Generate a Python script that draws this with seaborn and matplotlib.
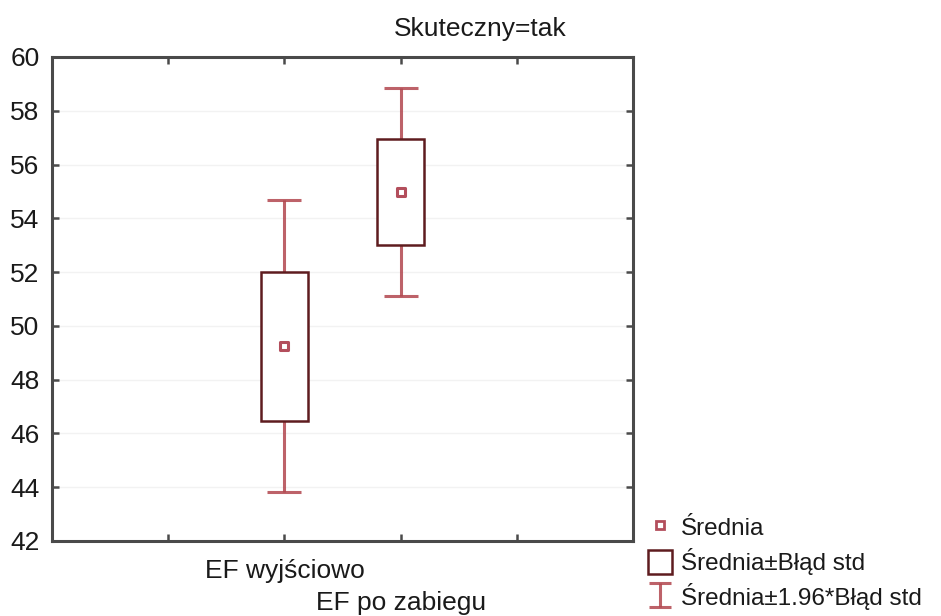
import numpy as np
import pandas as pd
import matplotlib
matplotlib.use("Agg")
import matplotlib.pyplot as plt
import seaborn as sns
from matplotlib.patches import Rectangle
from matplotlib.lines import Line2D

# Mean EF with standard error, for patients with a successful procedure
categories = ["EF wyjściowo", "EF po zabiegu"]
means = [49.24, 54.98]
std_err = [2.77, 1.98]
ci_factor = 1.96

y_ticks = [42, 44, 46, 48, 50, 52, 54, 56, 58, 60]
title = "Skuteczny=tak"
legend_labels = ["Średnia", "Średnia±Błąd std", "Średnia±1.96*Błąd std"]

box_color = "#5e1c1f"
whisker_color = "#b2474f"
mean_color = "#b34e5c"
spine_color = "#4a4a4a"
text_color = "#1a1a1a"

sns.set_theme(style="white")
plt.rcParams["font.family"] = ["Liberation Sans", "DejaVu Sans"]

fig = plt.figure(figsize=(9.41, 6.16), dpi=100)
ax = fig.add_axes([0.0553, 0.1218, 0.6174, 0.7857])

positions = np.arange(len(categories)) + 2
df = pd.DataFrame({"pos": positions, "mean": means, "se": std_err,
                   "label": categories})
df["ci"] = df["se"] * ci_factor

err_kw = dict(fmt="none", ecolor=whisker_color, elinewidth=2.2,
              capthick=2.2, alpha=0.85)

# 1.96*SE whiskers
ax.errorbar(df["pos"], df["mean"], yerr=df["ci"], capsize=12, zorder=2,
            **err_kw)

# mean ± SE boxes
ax.bar(df["pos"], 2 * df["se"], bottom=df["mean"] - df["se"], width=0.4,
       facecolor="white", edgecolor=box_color, linewidth=1.8, zorder=3)

# means
sns.scatterplot(data=df, x="pos", y="mean", ax=ax, marker="s", s=38,
                facecolor="white", edgecolor=mean_color, linewidth=2.2,
                zorder=4, legend=False)

ax.set_xlim(0, 5)
ax.set_ylim(42, 60)
ax.set_yticks(y_ticks)
ax.set_xticks([1, 2, 3, 4])
ax.set_xticklabels([])
ax.set_xlabel("")
ax.set_ylabel("")

# staggered category labels under their ticks
drops = [-37, -69]
for (_, row), dy in zip(df.iterrows(), drops):
    ax.annotate(row["label"], xy=(row["pos"], 0),
                xycoords=ax.get_xaxis_transform(), xytext=(0, dy),
                textcoords="offset pixels", ha="center", va="baseline",
                fontsize=19, color=text_color, annotation_clip=False)

ax.grid(axis="y", color="#f2f2f2", linewidth=1.0, zorder=0)
ax.set_axisbelow(True)

for s in ax.spines.values():
    s.set_visible(True)
    s.set_color(spine_color)
    s.set_linewidth(2.2)

ax.tick_params(axis="both", which="major", direction="in", length=5,
               width=1.8, color=spine_color, labelsize=19,
               labelcolor=text_color, top=True, right=True, left=True,
               bottom=True, labeltop=False, labelright=False)
ax.tick_params(axis="y", pad=9)

fig.text(0.51, 0.953, title, ha="center", va="center", fontsize=19,
         color=text_color)

# legend keys
err_key = ax.errorbar([np.nan], [np.nan], yerr=[1.0], capsize=8, **err_kw)
handles = [
    Line2D([], [], linestyle="none", marker="s", markersize=6,
           markerfacecolor="white", markeredgecolor=mean_color,
           markeredgewidth=2.0),
    Rectangle((0, 0), 1, 1, facecolor="white", edgecolor=box_color,
              linewidth=1.8),
    err_key,
]
fig.legend(handles, legend_labels, loc="lower left",
           bbox_to_anchor=(0.678, -0.006), frameon=False, fontsize=17.5,
           handlelength=1.0, handleheight=1.15, handletextpad=0.35,
           labelspacing=0.32, borderaxespad=0.0, labelcolor=text_color)

fig.savefig("out.png", dpi=100)
